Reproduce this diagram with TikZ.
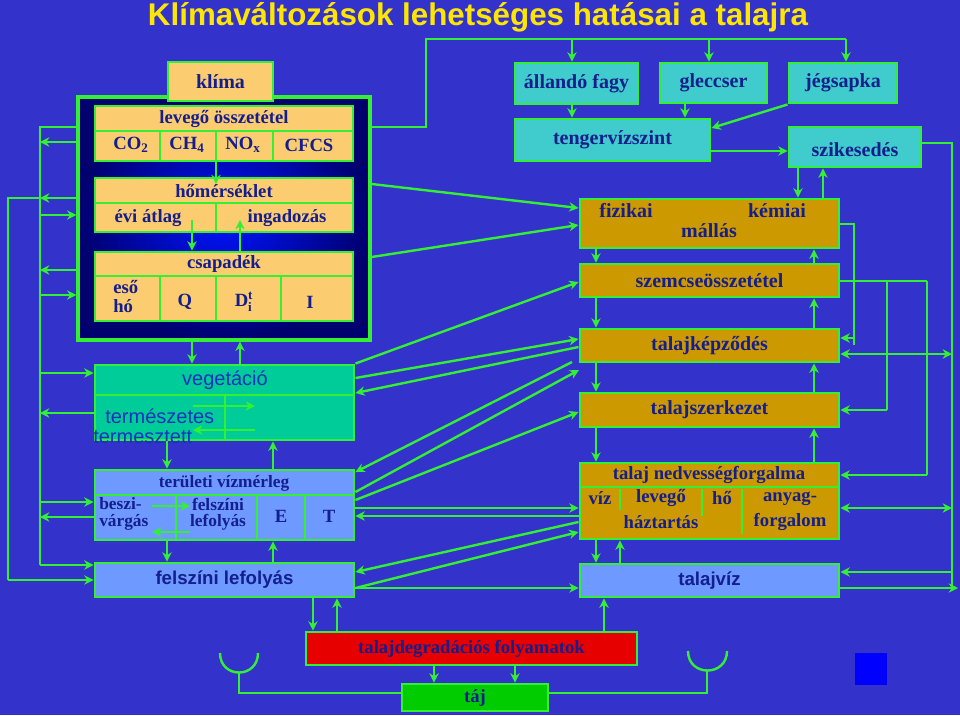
\documentclass[tikz,border=0pt]{standalone}
\usepackage{fontspec}
\setmainfont{Liberation Serif}
\newfontfamily\arialf{Liberation Sans}
\usetikzlibrary{fit,arrows.meta}
\definecolor{bg}{RGB}{51,51,204}
\definecolor{gr}{RGB}{51,240,51}
\definecolor{lo}{RGB}{252,204,112}
\definecolor{gold}{RGB}{204,153,0}
\definecolor{teal}{RGB}{0,204,153}
\definecolor{cy}{RGB}{64,204,204}
\definecolor{lb}{RGB}{110,153,255}
\definecolor{rd}{RGB}{230,0,0}
\definecolor{tg}{RGB}{0,204,0}
\definecolor{tb}{RGB}{20,30,140}
\definecolor{tb2}{RGB}{20,50,190}
\definecolor{yl}{RGB}{255,230,0}
\newcommand\fsz[1]{\fontsize{#1}{#1}\selectfont}
\begin{document}
\begin{tikzpicture}[x=0.75pt,y=-0.75pt,
 box/.style={draw=gr,line width=2.2pt,inner sep=0pt},
 txt/.style={inner sep=0pt,text=tb,font=\fsz{14}\bfseries},
 btxt/.style={inner sep=0pt,text=tb,font=\fsz{15}\bfseries},
 stxt/.style={inner sep=0pt,text=tb2,font=\arialf\fsz{15}},
 sbt/.style={inner sep=0pt,text=tb,font=\arialf\bfseries\fsz{14}},
 ln/.style={draw=gr,line width=1.8pt},
 ar/.style={draw=gr,line width=1.8pt,-{Stealth[length=7pt,width=7pt]}},
 dar/.style={draw=gr,line width=1.8pt,{Stealth[length=7pt,width=7pt]}-{Stealth[length=7pt,width=7pt]}},
 dv/.style={draw=gr,line width=1.8pt}]
\useasboundingbox (0,0) rectangle (960,715);
\fill[bg] (0,0) rectangle (960,715);
\node[inner sep=0pt,text=yl,font=\arialf\bfseries\fsz{23.5}] (title) at (478,17) {Klímaváltozások lehetséges hatásai a talajra};
% climate block
\node[draw=gr,line width=2.5pt,inner sep=0pt,inner color={rgb,255:red,0;green,20;blue,255},outer color={rgb,255:red,0;green,0;blue,110},fit={(78,97)(370,340)}] (clim) {};
\node[box,fill=lo,fit={(168,62)(273,101)}] (klima) {};
\node[btxt] (klimat) at (klima.center) {klíma};
\node[box,fill=lo,fit={(95,106)(353,161)}] (lev) {};
\draw[dv] (95,131)--(353,131) (160,131)--(160,161) (216,131)--(216,161) (273,131)--(273,161);
\node[txt] (levt) at (224,119) {levegő összetétel};
\node[txt] (co2) at (131,145) {CO\textsubscript{2}};
\node[txt] (ch4) at (187,145) {CH\textsubscript{4}};
\node[txt] (nox) at (243,145) {NO\textsubscript{x}};
\node[txt] (cfcs) at (309,145) {CFCS};
\node[box,fill=lo,fit={(95,178)(353,232)}] (hom) {};
\draw[dv] (95,203)--(353,203) (216,203)--(216,232);
\node[txt] (homt) at (224,191) {hőmérséklet};
\node[txt] (evi) at (148,218) {évi átlag};
\node[txt] (ing) at (287,218) {ingadozás};
\node[box,fill=lo,fit={(95,252)(353,321)}] (csap) {};
\draw[dv] (95,276)--(353,276) (160,276)--(160,321) (216,276)--(216,321) (281,276)--(281,321);
\node[txt] (csapt) at (224,264) {csapadék};
\node[txt,anchor=west] (eso) at (113,287) {eső};
\node[txt,anchor=west] (ho) at (113,306) {hó};
\node[txt] (q) at (185,302) {Q};
\node[txt] (dit) at (244,302) {D$^{\mathbf{t}}_{\mathbf{i}}$};
\node[txt] (ii) at (310,302) {I};
\draw[ar] (lev.south -| 216,0) -- (homt.north -| 216,0);
\draw[ar] (192,220) -- (csap.north -| 192,0);
\draw[ar] (csap.north -| 240,0) -- (240,220);
% left column
\node[box,fill=teal,fit={(95,365)(354,440)}] (veg) {};
\draw[dv] (95,395)--(354,395) (225,395)--(225,440);
\node[stxt] (vegt) at (225,380) {vegetáció};
\node[stxt,anchor=west] (term) at (105,416) {természetes};
\node[stxt,anchor=west] (termz) at (93,437) {termesztett};
\draw[ar] (193,406) -- (255,406);
\draw[ar] (255,430) -- (193,430);
\node[box,fill=lb,fit={(95,470)(354,540)}] (viz) {};
\draw[dv] (95,495)--(354,495) (176,495)--(176,540) (257,495)--(257,540) (305,495)--(305,540);
\node[txt,font=\fsz{13}\bfseries] (vizt) at (224,483) {területi vízmérleg};
\node[txt,anchor=west,font=\fsz{13}\bfseries] (besz) at (99,504) {beszi-};
\node[txt,anchor=west,font=\fsz{13}\bfseries] (varg) at (99,522) {várgás};
\node[txt,font=\fsz{13}\bfseries] (felsz) at (218,504) {felszíni};
\node[txt,font=\fsz{13}\bfseries] (lefo) at (218,522) {lefolyás};
\node[txt] (ee) at (281,516) {E};
\node[txt] (tt) at (329,516) {T};
\draw[ar] (152,506) -- (190,506);
\draw[ar] (190,532) -- (152,532);
\node[box,fill=lb,fit={(95,563)(354,597)}] (fl) {};
\node[sbt] (flt) at (fl.center) {felszíni lefolyás};
\draw[ar] (clim.south -| 192,0) -- (veg.north -| 192,0);
\draw[ar] (veg.north -| 240,0) -- (clim.south -| 240,0);
\draw[ar] (veg.south -| 167,0) -- (viz.north -| 167,0);
\draw[ar] (viz.north -| 273,0) -- (veg.south -| 273,0);
\draw[ar] (viz.south -| 167,0) -- (fl.north -| 167,0);
\draw[ar] (fl.north -| 273,0) -- (viz.south -| 273,0);
% left buses
\draw[ln] (clim.west |- 0,127) -- (40,127) -- (40,565);
\draw[ar] (clim.west |- 0,142) -- (40,142);
\draw[ar] (clim.west |- 0,198) -- (40,198);
\draw[ln] (40,198) -- (8,198) -- (8,580);
\draw[ar] (8,580) -- (fl.west |- 0,580);
\draw[ar] (40,215) -- (clim.west |- 0,215);
\draw[ar] (clim.west |- 0,270) -- (40,270);
\draw[ar] (40,295) -- (clim.west |- 0,295);
\draw[ar] (40,373) -- (veg.west |- 0,373);
\draw[ar] (veg.west |- 0,413) -- (40,413);
\draw[ar] (40,502) -- (viz.west |- 0,502);
\draw[ar] (viz.west |- 0,517) -- (40,517);
\draw[ar] (40,565) -- (fl.west |- 0,565);
% right top
\node[box,fill=cy,fit={(515,63)(638,104)}] (fagy) {};
\node[btxt] (fagyt) at (fagy.center) {állandó fagy};
\node[box,fill=cy,fit={(660,63)(767,103)}] (gl) {};
\node[btxt] (glt) at (gl.center) {gleccser};
\node[box,fill=cy,fit={(789,63)(897,103)}] (jeg) {};
\node[btxt] (jegt) at (jeg.center) {jégsapka};
\node[box,fill=cy,fit={(515,119)(710,161)}] (teng) {};
\node[btxt] (tengt) at (teng.center) {tengervízszint};
\node[box,fill=cy,fit={(789,127)(921,167)}] (szik) {};
\node[btxt] (szikt) at ([yshift=-2pt]szik.center) {szikesedés};
\draw[ln] (clim.east |- 0,127) -- (426,127) -- (426,39) -- (846,39);
\draw[ar] (572,39) -- (fagy.north -| 572,0);
\draw[ar] (709,39) -- (gl.north -| 709,0);
\draw[ar] (846,39) -- (jeg.north -| 846,0);
\draw[ar] (fagy.south -| 572,0) -- (teng.north -| 572,0);
\draw[ar] (gl.south -| 685,0) -- (teng.north -| 685,0);
\draw[ar] (jeg.south west) -- (teng.north east |- 0,128);
\draw[ar] (teng.east |- 0,151) -- (szik.west |- 0,151);
% right column
\node[box,fill=gold,fit={(580,199)(839,248)}] (fiz) {};
\node[btxt] (fizt) at (626,211) {fizikai};
\node[btxt] (kem) at (777,211) {kémiai};
\node[btxt] (mal) at (709,231) {mállás};
\node[box,fill=gold,fit={(580,264)(839,297)}] (sze) {};
\node[btxt] (szet) at (sze.center) {szemcseösszetétel};
\node[box,fill=gold,fit={(580,329)(839,362)}] (tk) {};
\node[btxt] (tkt) at (tk.center) {talajképződés};
\node[box,fill=gold,fit={(580,393)(839,427)}] (tsz) {};
\node[btxt] (tszt) at (tsz.center) {talajszerkezet};
\node[box,fill=gold,fit={(580,463)(839,539)}] (ned) {};
\draw[dv] (580,487)--(839,487) (620,489)--(620,510) (702,489)--(702,516) (742,489)--(742,534);
\node[txt] (nedt) at (709,475) {talaj nedvességforgalma};
\node[txt] (vz) at (600,498) {víz};
\node[txt] (lv) at (661,498) {levegő};
\node[txt] (hh) at (722,498) {hő};
\node[txt] (any) at (790,499) {anyag-};
\node[txt] (haz) at (661,522) {háztartás};
\node[txt] (forg) at (790,522) {forgalom};
\node[box,fill=lb,fit={(580,564)(839,597)}] (tal) {};
\node[sbt] (talt) at (tal.center) {talajvíz};
\draw[ar] (szik.south -| 798,0) -- (fiz.north -| 798,0);
\draw[ar] (fiz.north -| 823,0) -- (szik.south -| 823,0);
\draw[ar] (fiz.south -| 596,0) -- (sze.north -| 596,0);
\draw[ar] (sze.north -| 814,0) -- (fiz.south -| 814,0);
\draw[ar] (sze.south -| 596,0) -- (tk.north -| 596,0);
\draw[ar] (tk.north -| 814,0) -- (sze.south -| 814,0);
\draw[ar] (tk.south -| 596,0) -- (tsz.north -| 596,0);
\draw[ar] (tsz.north -| 814,0) -- (tk.south -| 814,0);
\draw[ar] (tsz.south -| 596,0) -- (ned.north -| 596,0);
\draw[ar] (ned.north -| 814,0) -- (tsz.south -| 814,0);
\draw[ar] (ned.south -| 596,0) -- (tal.north -| 596,0);
\draw[ar] (tal.north -| 620,0) -- (ned.south -| 620,0);
% right buses
\draw[ln] (szik.east |- 0,143) -- (952,143) -- (952,588);
\draw[ar] (tal.east |- 0,588) -- (958,588);
\draw[dar] (tk.east |- 0,354) -- (952,354);
\draw[dar] (ned.east |- 0,508) -- (952,508);
\draw[ar] (952,572) -- (tal.east |- 0,572);
\draw[ln] (fiz.east |- 0,224) -- (854,224) -- (854,345);
\draw[ar] (854,338) -- (tk.east |- 0,338);
\draw[ln] (sze.east |- 0,281) -- (927,281);
\draw[ln] (887,281) -- (887,410);
\draw[ar] (887,410) -- (tsz.east |- 0,410);
\draw[ln] (927,281) -- (927,475);
\draw[ar] (927,475) -- (ned.east |- 0,475);
% middle diagonals
\draw[ar] (clim.east |- 0,184) -- (fiz.west |- 0,208);
\draw[ar] (clim.east |- 0,257) -- (fiz.west |- 0,225);
\draw[ar] (veg.north east) -- (sze.west |- 0,282);
\draw[ar] (veg.east |- 0,378) -- (tk.west |- 0,339);
\draw[ar] (tk.west |- 0,347) -- (veg.east |- 0,393);
\draw[ar] (572,362) -- (viz.east |- 0,472);
\draw[ar] (viz.east |- 0,492) -- (579,370);
\draw[ar] (viz.east |- 0,500) -- (tsz.west |- 0,412);
\draw[ar] (viz.east |- 0,508) -- (ned.west |- 0,508);
\draw[ar] (ned.west |- 0,516) -- (viz.east |- 0,516);
\draw[ar] (ned.west |- 0,522) -- (fl.east |- 0,572);
\draw[ar] (fl.east |- 0,588) -- (ned.west |- 0,532);
\draw[ar] (fl.east |- 0,588) -- (tal.west |- 0,588);
% bottom
\node[box,fill=rd,fit={(306,632)(637,665)}] (deg) {};
\node[txt] (degt) at (deg.center) {talajdegradációs folyamatok};
\node[box,fill=tg,fit={(402,684)(548,711)}] (taj) {};
\node[txt] (tajt) at (taj.center) {táj};
\draw[ar] (fl.south -| 313,0) -- (deg.north -| 313,0);
\draw[ar] (deg.north -| 337,0) -- (fl.south -| 337,0);
\draw[ar] (deg.north -| 604,0) -- (tal.south -| 604,0);
\draw[ar] (deg.south -| 434,0) -- (taj.north -| 434,0);
\draw[ar] (deg.south -| 515,0) -- (taj.north -| 515,0);
\draw[ln] (220,653) .. controls (220,679) and (258,679) .. (258,653);
\draw[ln] (239,672) -- (239,693) -- (taj.west |- 0,693);
\draw[ln] (688,651) .. controls (688,677) and (727,677) .. (727,651);
\draw[ln] (707,670) -- (707,693) -- (taj.east |- 0,693);
\fill[blue] (855,653) rectangle (887,685);
\end{tikzpicture}
\end{document}
